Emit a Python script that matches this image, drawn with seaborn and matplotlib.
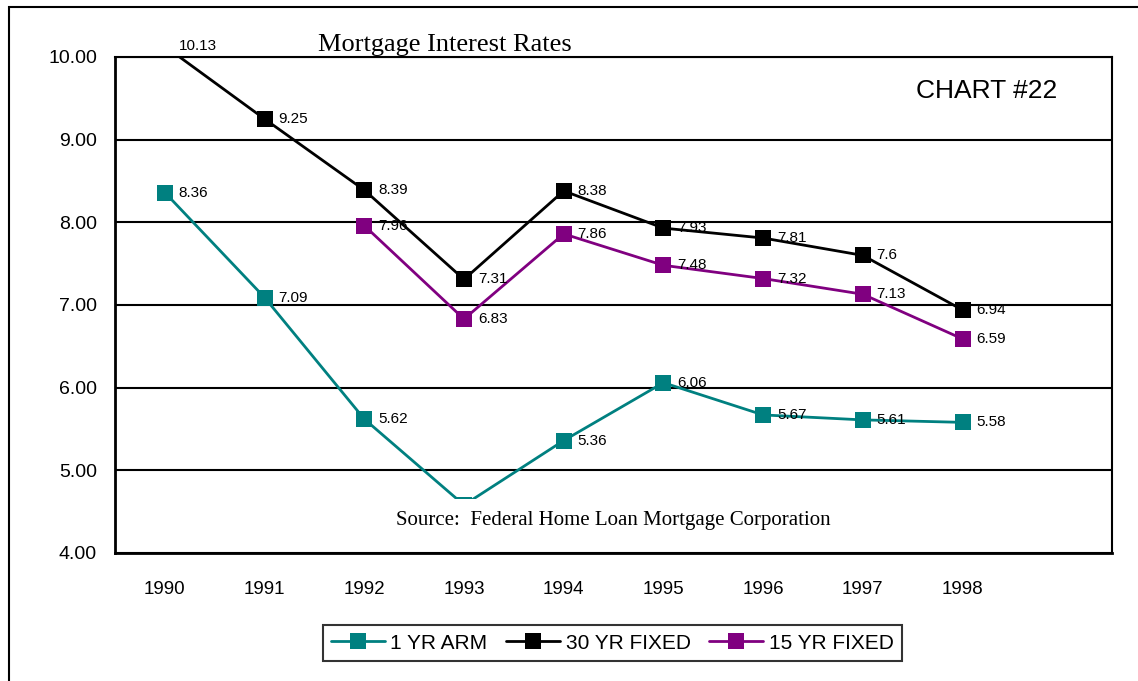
import numpy as np
import pandas as pd
import matplotlib.pyplot as plt
import matplotlib.patches as patches
import seaborn as sns

# Chart values
years = ['1990', '1991', '1992', '1993', '1994', '1995', '1996', '1997', '1998']
arm_1yr = [8.36, 7.09, 5.62, 4.58, 5.36, 6.06, 5.67, 5.61, 5.58]
fixed_30yr = [10.13, 9.25, 8.39, 7.31, 8.38, 7.93, 7.81, 7.6, 6.94]
fixed_15yr = [np.nan, np.nan, 7.96, 6.83, 7.86, 7.48, 7.32, 7.13, 6.59]
series_names = ['1 YR ARM', '30 YR FIXED', '15 YR FIXED']
colors = ['#008080', '#000000', '#800080']

sns.set_style('white')
plt.rcParams['font.family'] = ['Liberation Sans', 'DejaVu Sans']
plt.rcParams['text.color'] = 'black'
plt.rcParams['xtick.color'] = 'black'
plt.rcParams['ytick.color'] = 'black'

# Long format table for seaborn
rows = []
for name, vals in zip(series_names, [arm_1yr, fixed_30yr, fixed_15yr]):
    for i, v in enumerate(vals):
        rows.append({'pos': i, 'rate': v, 'series': name})
df = pd.DataFrame(rows).dropna()

fig = plt.figure(figsize=(11.38, 6.81), dpi=100)
ax = fig.add_axes([0.1011, 0.1880, 0.8761, 0.7283])

sns.lineplot(data=df, x='pos', y='rate', hue='series', hue_order=series_names,
             palette=colors, marker='s', markersize=11, markeredgewidth=0,
             linewidth=2, legend=False, ax=ax, zorder=2)

# Data labels
for vals in [arm_1yr, fixed_30yr, fixed_15yr]:
    for i, v in enumerate(vals):
        if np.isnan(v):
            continue
        ax.annotate(f'{v:g}', (i, v), xytext=(10, 0), textcoords='offset points',
                    fontsize=11, va='center', ha='left', annotation_clip=False)

ax.set_xlim(-0.5, 9.5)
ax.set_ylim(4, 10)
ax.set_yticks(np.arange(4, 10.01, 1))
ax.set_yticklabels([f'{t:.2f}' for t in np.arange(4, 10.01, 1)])
ax.set_xticks(range(len(years)))
ax.set_xticklabels(years)
ax.set_xticks(np.arange(-0.5, 9.6, 1), minor=True)
ax.tick_params(axis='x', which='major', length=0, labelsize=13.5, pad=20)
ax.tick_params(axis='x', which='minor', length=6, width=1.5, direction='out')
ax.tick_params(axis='y', length=6, width=1.5, direction='out', labelsize=14, pad=7)
ax.set_xlabel('')
ax.set_ylabel('')
ax.grid(axis='y', color='black', linewidth=1.5)
ax.grid(axis='x', visible=False)
for s in ax.spines.values():
    s.set_color('black')
    s.set_linewidth(1.5)
ax.spines['left'].set_linewidth(2)
ax.spines['bottom'].set_linewidth(2)

# Texts
fig.text(318 / 1138, 1 - 45 / 681, 'Mortgage Interest Rates', family='Liberation Serif',
         fontsize=19, ha='left', va='center')
ax.text(0.874, 0.932, 'CHART #22', transform=ax.transAxes, fontsize=19, ha='center', va='center')
ax.text(0.5, 0.065, 'Source:  Federal Home Loan Mortgage Corporation', transform=ax.transAxes,
        family='Liberation Serif', fontsize=15, ha='center', va='center', zorder=5,
        bbox=dict(facecolor='white', edgecolor='none', pad=9))

# Legend
handles = [plt.Line2D([], [], color=c, marker='s', markersize=11, markeredgewidth=0, linewidth=2)
           for c in colors]
leg = fig.legend(handles, series_names, loc='center', bbox_to_anchor=(0.538, 0.0558), ncol=3,
                 fontsize=15, frameon=True, fancybox=False, handlelength=2.6, handletextpad=0.25,
                 columnspacing=0.9, borderpad=0.4, borderaxespad=0, edgecolor='black')
leg.get_frame().set_linewidth(1.5)

# Outer frame
fig.patches.append(patches.Rectangle((9 / 1138, -0.1), 2, 1 - 7 / 681 + 0.1, transform=fig.transFigure,
                                     fill=False, edgecolor='black', linewidth=1.5))

fig.savefig('out.png', dpi=100)
